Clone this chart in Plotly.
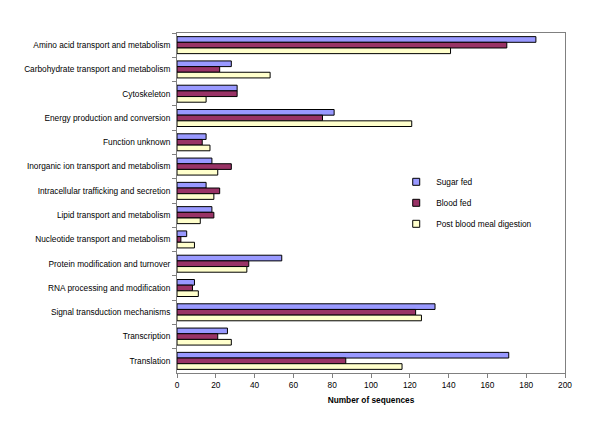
import plotly.graph_objects as go

categories = [
    "Amino acid transport and metabolism",
    "Carbohydrate transport and metabolism",
    "Cytoskeleton",
    "Energy production and conversion",
    "Function unknown",
    "Inorganic ion transport and metabolism",
    "Intracellular trafficking and secretion",
    "Lipid transport and metabolism",
    "Nucleotide transport and metabolism",
    "Protein modification and turnover",
    "RNA processing and modification",
    "Signal transduction mechanisms",
    "Transcription",
    "Translation",
]
sugar_fed = [185, 28, 31, 81, 15, 18, 15, 18, 5, 54, 9, 133, 26, 171]
blood_fed = [170, 22, 31, 75, 13, 28, 22, 19, 2, 37, 8, 123, 21, 87]
post_digestion = [141, 48, 15, 121, 17, 21, 19, 12, 9, 36, 11, 126, 28, 116]
x_ticks = [0, 20, 40, 60, 80, 100, 120, 140, 160, 180, 200]

series = [
    ("Sugar fed", sugar_fed, "#9999FF"),
    ("Blood fed", blood_fed, "#993366"),
    ("Post blood meal digestion", post_digestion, "#FFFFCC"),
]

fig = go.Figure()
for i, (name, vals, col) in enumerate(series):
    fig.add_trace(go.Bar(
        y=categories, x=vals, name=name, orientation="h",
        marker=dict(color=col, line=dict(color="black", width=1)),
        legendgroup=str(i), showlegend=False,
    ))
    # small square legend key
    fig.add_trace(go.Scatter(
        x=[None], y=[None], mode="markers", name=name,
        marker=dict(symbol="square", size=7, color=col, line=dict(color="black", width=1)),
        legendgroup=str(i), showlegend=True, hoverinfo="skip",
    ))

fig.update_layout(
    width=600, height=432,
    margin=dict(l=169, r=43, t=25, b=67, autoexpand=False),
    paper_bgcolor="white", plot_bgcolor="white",
    font=dict(family="Liberation Sans, Arial, sans-serif", size=8.3, color="black"),
    barmode="group", bargap=0.3, bargroupgap=0,
    showlegend=True,
    legend=dict(x=0.565, y=0.605, xanchor="left", yanchor="top",
                bgcolor="rgba(0,0,0,0)", tracegroupgap=2, itemwidth=30,
                font=dict(size=8.3)),
    xaxis=dict(range=[0, 200], tickvals=x_ticks, ticks="outside", ticklen=4,
               tickcolor="#808080", showgrid=False, zeroline=False,
               showline=True, linecolor="#808080", mirror=True, automargin=False,
               title=dict(text="<b>Number of sequences</b>", font=dict(size=8.3), standoff=8)),
    yaxis=dict(autorange="reversed", ticks="outside", ticklen=4, tickcolor="#808080",
               showgrid=False, showline=True, linecolor="#808080", mirror=True,
               automargin=False, tickson="boundaries", ticklabelstandoff=4),
)

fig.write_html("out.html")
